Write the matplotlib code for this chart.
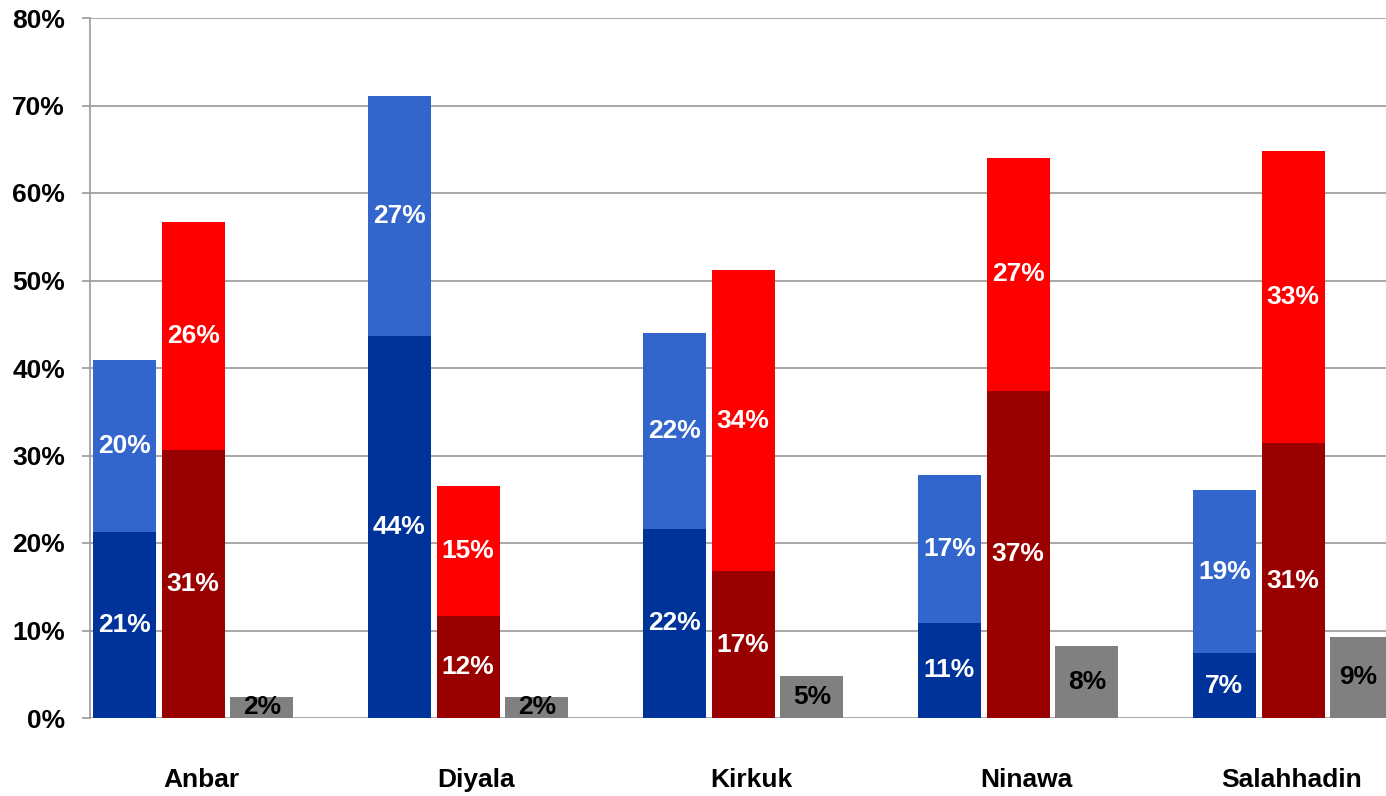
import numpy as np
import matplotlib.pyplot as plt

plt.rcParams['font.family'] = ['Liberation Sans', 'DejaVu Sans']

provinces = ["Anbar", "Diyala", "Kirkuk", "Ninawa", "Salahhadin"]
blue_dark = [21.3, 43.7, 21.6, 10.9, 7.4]
blue_light = [19.6, 27.4, 22.4, 16.9, 18.6]
red_dark = [30.6, 11.7, 16.8, 37.4, 31.4]
red_light = [26.1, 14.8, 34.4, 26.6, 33.4]
grey = [2.4, 2.4, 4.8, 8.2, 9.3]
yticks = [0, 10, 20, 30, 40, 50, 60, 70, 80]

c_bd, c_bl = "#003399", "#3366CC"
c_rd, c_rl = "#990000", "#FF0000"
c_gr = "#808080"

fig = plt.figure(figsize=(13.86, 7.96), dpi=100)
ax = fig.add_axes([90 / 1386, 78 / 796, 1 - 90 / 1386, 700 / 796])

x = np.arange(len(provinces))
w = 0.229
off = 0.25

bars = [
    ax.bar(x - off, blue_dark, w, color=c_bd, zorder=3),
    ax.bar(x - off, blue_light, w, bottom=blue_dark, color=c_bl, zorder=3),
    ax.bar(x, red_dark, w, color=c_rd, zorder=3),
    ax.bar(x, red_light, w, bottom=red_dark, color=c_rl, zorder=3),
    ax.bar(x + off, grey, w, color=c_gr, zorder=3),
]
for i, b in enumerate(bars):
    col = "black" if i == 4 else "white"
    ax.bar_label(b, labels=[f"{v.get_height():.0f}%" for v in b],
                 label_type="center", color=col, fontsize=19,
                 fontweight="bold", zorder=4)

ax.set_xlim(-0.375, 4.338)
ax.set_ylim(0, 80)
ax.set_yticks(yticks)
ax.set_yticklabels([f"{t}%" for t in yticks], fontsize=19, fontweight="bold")
# last label sits a bit left so it stays inside the frame
ax.set_xticks(x + np.array([0.03, 0.03, 0.03, 0.03, -0.005]))
ax.set_xticklabels(provinces, fontsize=19, fontweight="bold")
ax.tick_params(axis="x", length=0, pad=36)
ax.tick_params(axis="y", length=6, width=1.2, color="#999999", pad=12)
ax.grid(axis="y", color="#999999", lw=1.2, zorder=0)
for s in ["top", "right", "bottom"]:
    ax.spines[s].set_visible(False)
ax.spines["left"].set_color("#999999")
ax.spines["left"].set_linewidth(1.2)

fig.savefig("out.png", dpi=100)
